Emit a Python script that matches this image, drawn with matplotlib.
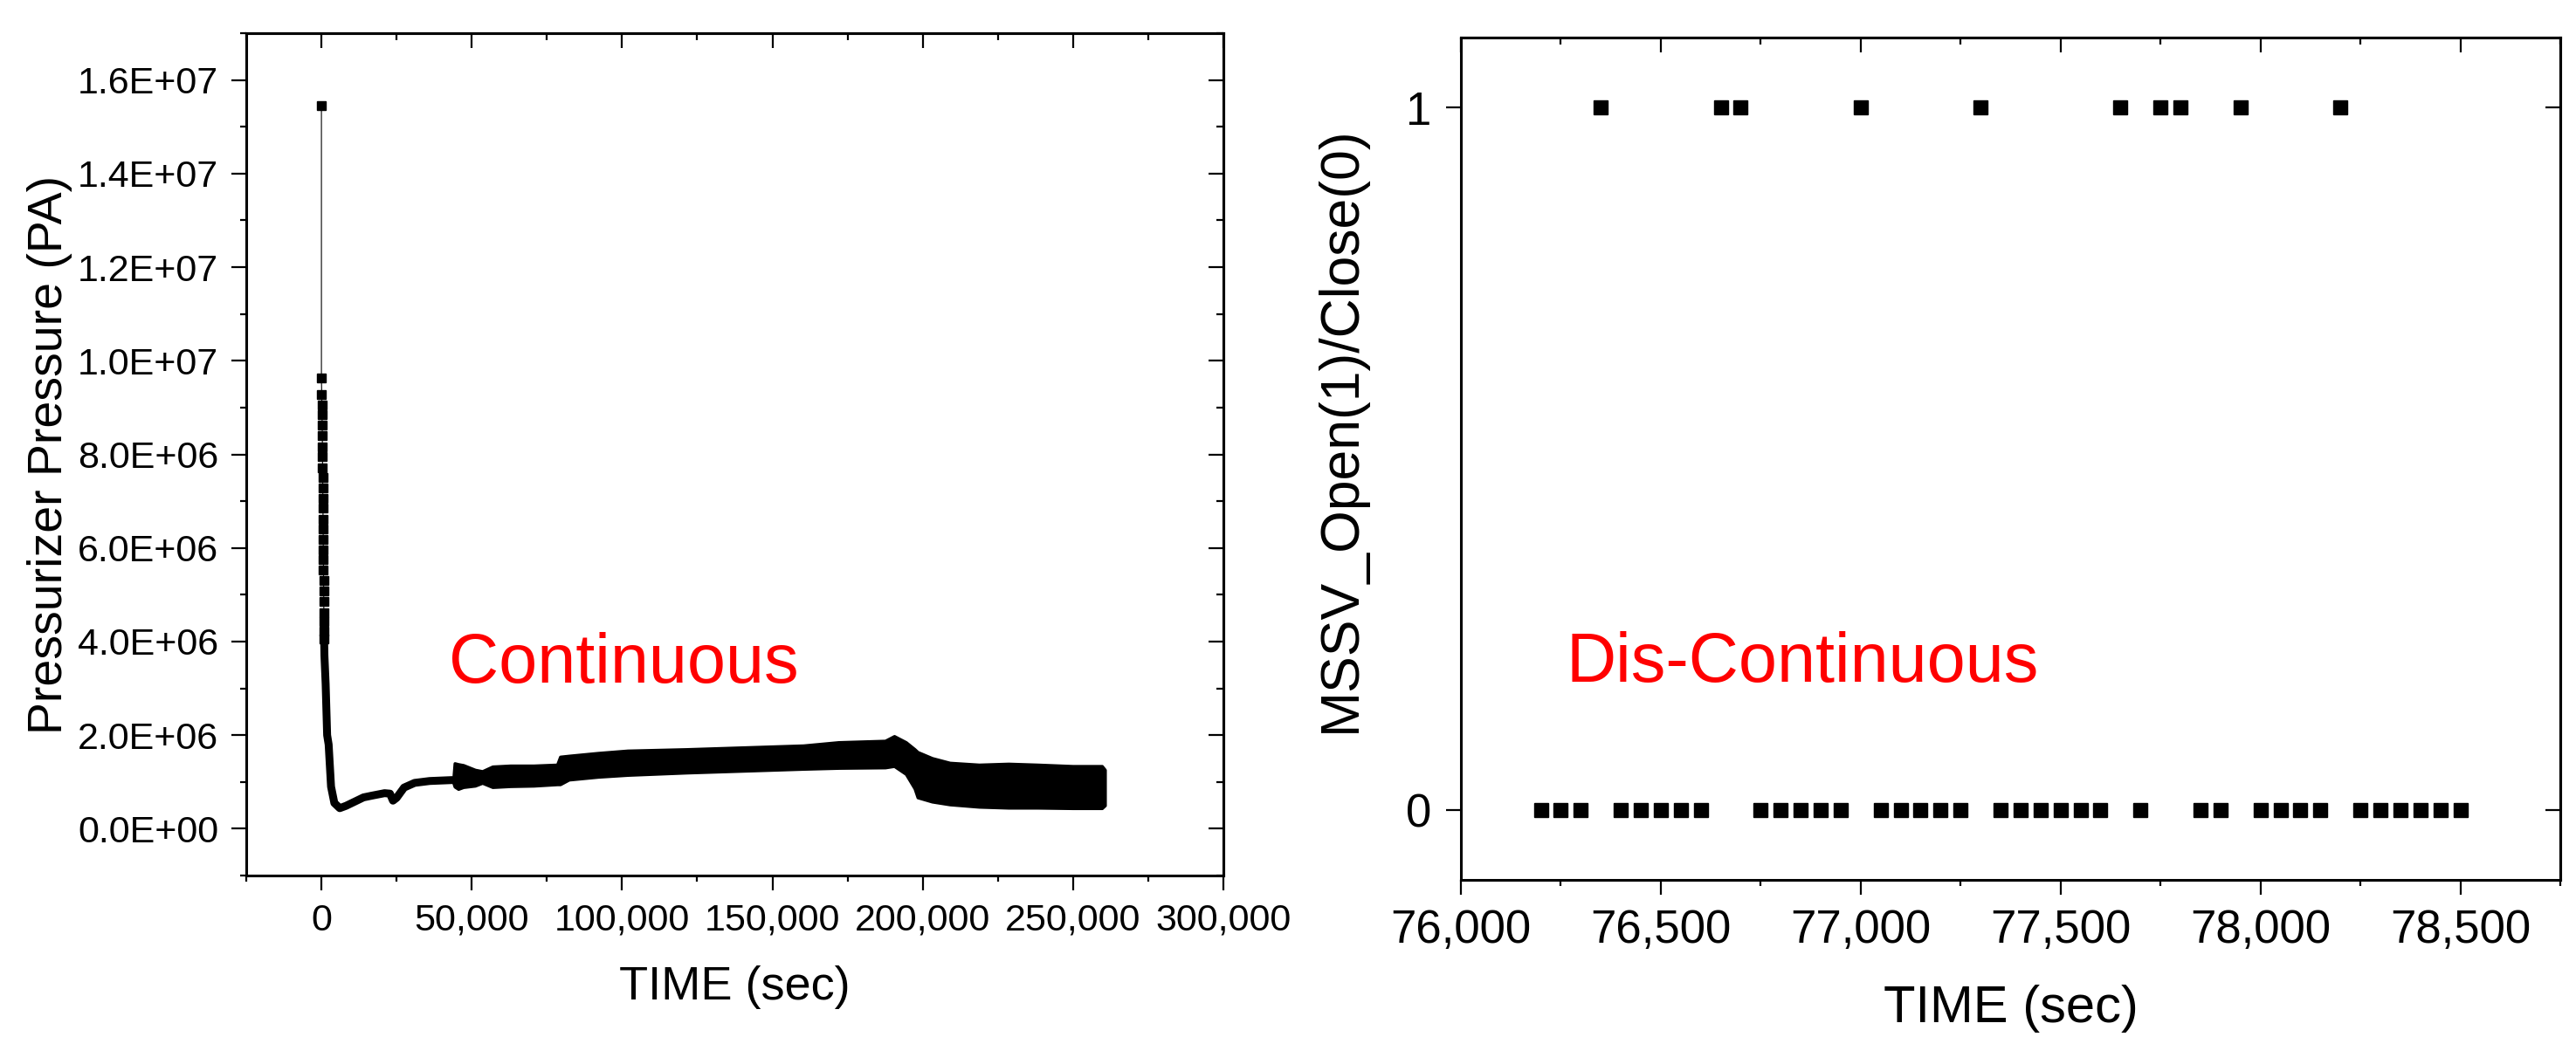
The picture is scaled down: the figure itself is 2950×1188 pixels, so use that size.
import matplotlib
matplotlib.use("Agg")
import matplotlib.pyplot as plt
from matplotlib.ticker import MultipleLocator, FuncFormatter, NullFormatter, FixedLocator

plt.rcParams['font.family'] = ['Liberation Sans', 'DejaVu Sans']

# left panel: pressurizer pressure (Pa) vs time (s)
spike_t = [0, 0, 100, 150, 200, 250, 300, 330, 360, 390, 420, 450, 480, 510, 540,
           570, 600, 630, 660, 690, 720, 750, 780, 810, 840, 870, 900]
spike_p = [1.545e7, 9.64e6, 9.28e6, 9.05e6, 8.85e6, 8.62e6, 8.40e6, 8.15e6, 7.95e6,
           7.72e6, 7.50e6, 7.28e6, 7.05e6, 6.85e6, 6.62e6, 6.40e6, 6.18e6, 5.95e6,
           5.75e6, 5.52e6, 5.30e6, 5.08e6, 4.85e6, 4.62e6, 4.42e6, 4.22e6, 4.05e6]

drop_t = [900, 1000, 1400, 1900, 2400, 3200, 4300, 6100, 8200, 11100, 14000, 17000,
          21000, 22800, 23800, 25000, 27500, 31000, 36000, 43500]
drop_p = [4.05e6, 3.7e6, 3.1e6, 2.0e6, 1.8e6, 0.9e6, 0.55e6, 0.44e6, 0.49e6, 0.58e6,
          0.67e6, 0.71e6, 0.76e6, 0.75e6, 0.60e6, 0.66e6, 0.88e6, 0.98e6, 1.02e6, 1.04e6]

band_t = [43900, 44300, 45500, 47200, 51100, 53500, 56900, 62800, 70600, 78400, 79400,
          82300, 92000, 101800, 121300, 140800, 160300, 172000, 187500, 190500, 194400,
          197300, 198300, 203100, 209000, 218700, 228500, 238200, 249900, 259600, 260600]
band_hi = [1.08e6, 1.40e6, 1.38e6, 1.36e6, 1.26e6, 1.23e6, 1.33e6, 1.35e6, 1.35e6,
           1.37e6, 1.54e6, 1.56e6, 1.62e6, 1.67e6, 1.70e6, 1.74e6, 1.78e6, 1.85e6,
           1.88e6, 1.98e6, 1.85e6, 1.70e6, 1.64e6, 1.51e6, 1.41e6, 1.37e6, 1.39e6,
           1.37e6, 1.34e6, 1.34e6, 1.26e6]
band_lo = [0.98e6, 0.90e6, 0.85e6, 0.89e6, 0.92e6, 0.98e6, 0.89e6, 0.91e6, 0.92e6,
           0.95e6, 0.95e6, 1.05e6, 1.11e6, 1.15e6, 1.20e6, 1.24e6, 1.28e6, 1.30e6,
           1.31e6, 1.34e6, 1.17e6, 0.86e6, 0.67e6, 0.58e6, 0.52e6, 0.47e6, 0.45e6,
           0.45e6, 0.44e6, 0.44e6, 0.50e6]

# right panel: MSSV state, one sample every 50 s
mssv_t = [76200, 76250, 76300, 76350, 76400, 76450, 76500, 76550, 76600, 76650, 76700,
          76750, 76800, 76850, 76900, 76950, 77000, 77050, 77100, 77150, 77200, 77250,
          77300, 77350, 77400, 77450, 77500, 77550, 77600, 77650, 77700, 77750, 77800,
          77850, 77900, 77950, 78000, 78050, 78100, 78150, 78200, 78250, 78300, 78350,
          78400, 78450, 78500]
mssv_s = [0, 0, 0, 1, 0, 0, 0, 0, 0, 1, 1,
          0, 0, 0, 0, 0, 1, 0, 0, 0, 0, 0,
          1, 0, 0, 0, 0, 0, 0, 1, 0, 1, 1,
          0, 0, 1, 0, 0, 0, 0, 1, 0, 0, 0,
          0, 0, 0]

fig = plt.figure(figsize=(29.5, 11.88), dpi=100)
ax1 = fig.add_axes([0.0956, 0.1557, 0.3793, 0.8123])
ax2 = fig.add_axes([0.5671, 0.1515, 0.4268, 0.8123])

comma = FuncFormatter(lambda v, p: f'{v:,.0f}')


def style(ax, xmaj, xmin, ymaj, ymin):
    for s in ax.spines.values():
        s.set_linewidth(2.2)
    ax.xaxis.set_major_locator(xmaj)
    ax.xaxis.set_minor_locator(xmin)
    ax.yaxis.set_major_locator(ymaj)
    ax.yaxis.set_minor_locator(ymin)
    ax.tick_params(which='both', width=1.6, direction='out', top=False, right=False)
    ax.tick_params(which='major', length=12)
    ax.tick_params(which='minor', length=5)
    # mirrored ticks on top / right point inward
    top = ax.secondary_xaxis('top')
    top.xaxis.set_major_locator(xmaj)
    top.xaxis.set_minor_locator(xmin)
    top.xaxis.set_major_formatter(NullFormatter())
    top.tick_params(which='both', width=1.6, direction='in')
    top.tick_params(which='major', length=12)
    top.tick_params(which='minor', length=6)
    top.spines['top'].set_linewidth(2.2)
    rgt = ax.secondary_yaxis('right')
    rgt.yaxis.set_major_locator(ymaj)
    rgt.yaxis.set_minor_locator(ymin)
    rgt.yaxis.set_major_formatter(NullFormatter())
    rgt.tick_params(which='both', width=1.6, direction='in')
    rgt.tick_params(which='major', length=12)
    rgt.tick_params(which='minor', length=6)
    rgt.spines['right'].set_linewidth(2.2)


# left
ax1.plot(spike_t, spike_p, '-s', color='k', lw=0.8, ms=7.5)
ax1.plot(drop_t, drop_p, '-', color='k', lw=6.5, solid_capstyle='round')
ax1.fill_between(band_t, band_lo, band_hi, color='k', lw=2.5, edgecolor='k')
ax1.set_xlim(-25000, 300000)
ax1.set_ylim(-1e6, 1.7e7)
style(ax1, MultipleLocator(50000), MultipleLocator(25000),
      MultipleLocator(2e6), MultipleLocator(1e6))
ax1.xaxis.set_major_formatter(comma)
ax1.yaxis.set_major_formatter(FuncFormatter(lambda v, p: f'{v:.1E}'))
ax1.tick_params(labelsize=31, pad=11)
ax1.set_xlabel('TIME (sec)', fontsize=39)
ax1.set_ylabel('Pressurizer Pressure (PA)', fontsize=40)
ax1.xaxis.set_label_coords(0.5, -0.107)
ax1.yaxis.set_label_coords(-0.178, 0.5)
ax1.text(0.207, 0.229, 'Continuous', color='#ff0000', fontsize=57,
         transform=ax1.transAxes, va='baseline')

# right
ax2.plot(mssv_t, mssv_s, 's', color='k', ms=12)
ax2.set_xlim(76000, 78750)
ax2.set_ylim(-0.1, 1.1)
style(ax2, MultipleLocator(500), MultipleLocator(250),
      FixedLocator([0, 1]), FixedLocator([]))
ax2.xaxis.set_major_formatter(comma)
ax2.yaxis.set_major_formatter(FuncFormatter(lambda v, p: f'{v:.0f}'))
ax2.tick_params(labelsize=38, pad=12)
ax2.set_xlabel('TIME (sec)', fontsize=43)
ax2.set_ylabel('MSSV_Open(1)/Close(0)', fontsize=45)
ax2.xaxis.set_label_coords(0.5, -0.124)
ax2.yaxis.set_label_coords(-0.086, 0.535)
ax2.text(0.096, 0.235, 'Dis-Continuous', color='#ff0000', fontsize=57,
         transform=ax2.transAxes, va='baseline')

fig.savefig('out.png', dpi=100)
